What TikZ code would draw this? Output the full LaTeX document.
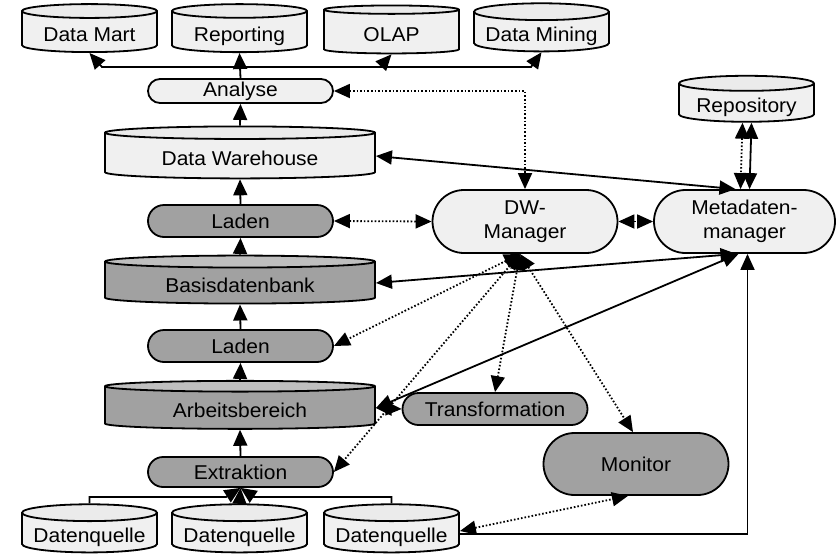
\documentclass[tikz,border=0pt]{standalone}
\usepackage{fontspec}
\setmainfont{Liberation Sans}[FakeStretch=1.05]
\usetikzlibrary{shapes.geometric,shapes.misc,arrows.meta}

\tikzset{
  lbl/.style={font=\fontsize{20}{24}\selectfont, align=center, inner sep=0pt},
  dbase/.style={lbl, cylinder, shape border rotate=90, aspect=0.15, draw, line width=1.8pt,
    cylinder uses custom fill, cylinder body fill=gray!12, cylinder end fill=gray!16,
    minimum width=135pt, minimum height=48pt, text height=20pt, text depth=2pt},
  dbwide/.style={dbase, aspect=0.08, minimum width=270pt},
  dbdark/.style={dbwide, cylinder body fill=black!37, cylinder end fill=black!25},
  proc/.style={lbl, rounded rectangle, draw, line width=1.8pt, fill=gray!12,
    minimum width=185pt, minimum height=32pt},
  procdark/.style={proc, fill=black!37},
  conn/.style={line width=1.8pt, -{Triangle[length=16pt,width=14pt]}},
  bconn/.style={line width=1.8pt, {Triangle[length=16pt,width=14pt]}-{Triangle[length=16pt,width=14pt]}},
  dconn/.style={bconn, dash pattern=on 1.6pt off 2pt}
}

\begin{document}
\begin{tikzpicture}[x=1pt,y=-1pt]
  \useasboundingbox (0,0) rectangle (836,555);

  % outputs
  \node[dbase] (mart) at (89.5,32) {Data Mart};
  \node[dbase] (rep) at (239.5,32) {Reporting};
  \node[dbase] (olap) at (391.5,32) {OLAP};
  \node[dbase] (mining) at (541.5,32) {Data Mining};
  \node[dbase, minimum height=46pt] (repo) at (746.5,103) {Repository};

  % left column
  \node[proc] (analyse) at (240.5,91) [minimum height=24pt] {Analyse};
  \node[dbwide, minimum height=52pt] (dwh) at (240,156) {Data Warehouse};
  \node[procdark] (laden1) at (240.5,221) {Laden};
  \node[dbdark] (basis) at (240,283) {Basisdatenbank};
  \node[procdark] (laden2) at (240.5,346) {Laden};
  \node[dbdark] (arbeit) at (240,408) {Arbeitsbereich};
  \node[procdark] (extrakt) at (240.5,472) [minimum height=30pt] {Extraktion};
  \node[dbase, minimum height=46pt] (quelle1) at (89.5,533) {Datenquelle};
  \node[dbase, minimum height=46pt] (quelle2) at (239.5,533) {Datenquelle};
  \node[dbase, minimum height=46pt] (quelle3) at (391.5,533) {Datenquelle};

  % right side
  \node[proc] (dwman) at (525,221.5) [minimum height=63pt] {DW-\\Manager};
  \node[proc] (metaman) at (744.5,221.5) [minimum width=181pt, minimum height=63pt] {Metadaten-\\manager};
  \node[procdark] (trans) at (495,409) {Transformation};
  \node[procdark] (monitor) at (636,464) [minimum height=62pt] {Monitor};

  \coordinate (top) at (240,67);

  % data flow
  \draw[line width=1.8pt] (analyse.north) -- (top);
  \draw[conn] (top) -- (rep.south);
  \draw[conn] (top) -- (102,67) -- (mart.south);
  \draw[conn] (top) -- (380,67) -- (olap.south);
  \draw[conn] (top) -- (531,67) -- (mining.south);
  \draw[conn] (dwh.north) -- (analyse.south);
  \draw[conn] (laden1.north) -- (dwh.south);
  \draw[conn] (basis.north) -- (laden1.south);
  \draw[conn] (laden2.north) -- (basis.south);
  \draw[conn] (arbeit.north) -- (laden2.south);
  \draw[conn] (extrakt.north) -- (arbeit.south);
  \draw[conn] (quelle2.north) -- (extrakt.south);
  \draw[conn] (quelle1.north) |- (226,497) -- (extrakt.south);
  \draw[conn] (quelle3.north) |- (254,497) -- (extrakt.south);

  % control
  \draw[dconn] (analyse.east) -| (dwman.north);
  \draw[dconn] (laden1.east) -- (dwman.west);
  \draw[dconn] (dwman.east) -- (metaman.west);
  \draw[dconn] ([xshift=-5pt]dwman.south) -- (laden2.east);
  \draw[dconn] ([xshift=-5pt]dwman.south) -- (extrakt.east);
  \draw[dconn] ([xshift=-5pt]dwman.south) -- (trans.north);
  \draw[dconn] ([xshift=-5pt]dwman.south) -- ([xshift=-3pt]monitor.north);
  \draw[dconn] ([yshift=2pt]quelle3.east) -- ([xshift=-8pt]monitor.south);
  \draw[bconn] (arbeit.east) -- (trans.west);

  % metadata
  \draw[bconn] (dwh.east) -- ([xshift=-9pt]metaman.north);
  \draw[dconn] ([xshift=-4pt]repo.south) -- ([xshift=-4pt]metaman.north);
  \draw[bconn] ([xshift=5pt]repo.south) -- ([xshift=5pt]metaman.north);
  \draw[bconn] (basis.east) -- ([xshift=-8pt]metaman.south);
  \draw[bconn] (arbeit.east) -- ([xshift=-6pt]metaman.south);
  \draw[conn] ([yshift=-1pt]quelle3.east) -| ([xshift=3pt]metaman.south);
\end{tikzpicture}
\end{document}
